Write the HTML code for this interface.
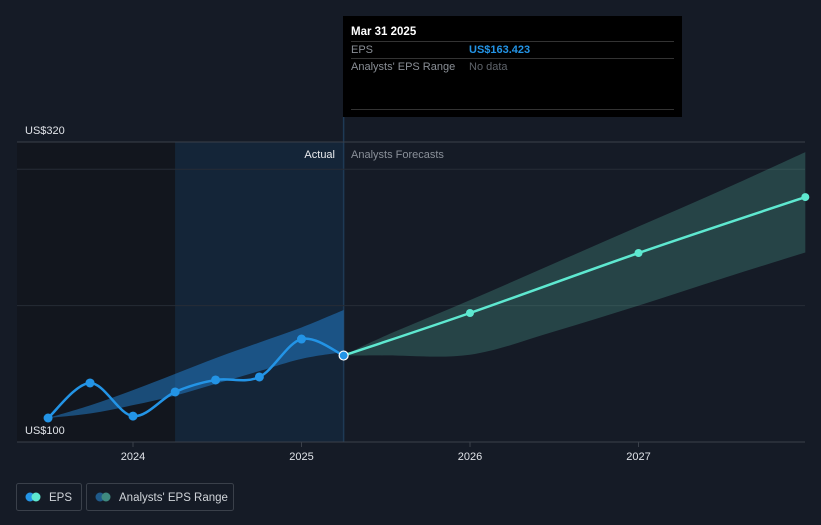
<!DOCTYPE html>
<html><head><meta charset="utf-8"><style>
body{margin:0;background:#151b26;font-family:"Liberation Sans",sans-serif;}
svg text{font-family:"Liberation Sans",sans-serif;}
</style></head><body>
<svg id="chart" width="821" height="520" xmlns="http://www.w3.org/2000/svg">
<rect width="821" height="520" fill="#151b26"/>
<g id="g"></g>
</svg>
<script>
const actualT=[2023.496,2023.745,2024,2024.25,2024.49,2024.75,2025,2025.25];
const actualV=[117.6,143.3,119,136.7,145.5,147.7,175.5,163.4];
const fcT=[2025.25,2026,2027,2027.99];
const fcV=[163.4,194.6,238.6,279.6];
const rangeT=[2023.496,2023.75,2024,2024.25,2024.5,2024.75,2025,2025.25];
const rangeHi=[117.6,127,138,150,162,173,184,196.8];
const rangeLo=[117.6,121,127,134,143,152,161,166];
const fcRangeT=[2025.25,2025.5,2026,2026.5,2027,2027.5,2027.99];
const fcRangeHi=[163.4,178,204,231,258,285,312.6];
const fcRangeLo=[163.4,163.5,164,181,200,220,239];
const yTicks=[100,200,300,320];
const yLabels=["US$100","US$320"];
const yLabelVals=[100,320];
const xTicks=[2024,2025,2026,2027];
const X=t=>133+(t-2024)*168.5;
const Y=v=>442-(v-100)*300/220;
const NS="http://www.w3.org/2000/svg";
const g=document.getElementById('g');
function mk(tag,attrs,name){const e=document.createElementNS(NS,tag);for(const k in attrs)e.setAttribute(k,attrs[k]);


g.appendChild(e);return e;}
function smooth(pts){let d=`M${pts[0][0]},${pts[0][1]}`;for(let i=0;i<pts.length-1;i++){const p0=pts[i-1]||pts[i],p1=pts[i],p2=pts[i+1],p3=pts[i+2]||p2;
d+=` C${p1[0]+(p2[0]-p0[0])/6},${p1[1]+(p2[1]-p0[1])/6} ${p2[0]-(p3[0]-p1[0])/6},${p2[1]-(p3[1]-p1[1])/6} ${p2[0]},${p2[1]}`;}return d;}
// regions
mk('rect',{x:17,y:142,width:X(2024.25)-17,height:300,fill:'#12161e'},'past-shade');
mk('rect',{x:X(2024.25),y:142,width:X(2025.25)-X(2024.25),height:300,fill:'#14283d',opacity:0.8},'actual-highlight');
mk('line',{x1:X(2025.25),x2:X(2025.25),y1:117,y2:442,stroke:'#1e3a55','stroke-width':1.5},'today-line');
// grid
yTicks.forEach(v=>{mk('line',{x1:17,x2:805,y1:Y(v),y2:Y(v),stroke:v==320||v==100?'#3a404a':'#262c36','stroke-width':1},'gridline-'+v);});
yLabels.forEach((l,i)=>{const t=mk('text',{x:25,y:Y(yLabelVals[i])-8,fill:'#e0e3e8','font-size':11},'y-label-'+yLabelVals[i]);t.textContent=l;});
xTicks.forEach(t=>{mk('line',{x1:X(t),x2:X(t),y1:442,y2:447,stroke:'#3a404a'},'x-tick-'+t);
const e=mk('text',{x:X(t),y:460,fill:'#e0e3e8','font-size':11,'text-anchor':'middle'},'x-label-'+t);e.textContent=t;});
// bands
function band(T,H,L,fill,name){const up=T.map((t,i)=>[X(t),Y(H[i])]);const lo=T.map((t,i)=>[X(t),Y(L[i])]).reverse();
let d=smooth(up)+' L'+smooth(lo).slice(1)+' Z';mk('path',{d,fill},name);}
band(rangeT,rangeHi,rangeLo,'rgba(33,130,210,0.5)','actual-eps-range');
band(fcRangeT,fcRangeHi,fcRangeLo,'rgba(90,190,170,0.25)','forecast-eps-range');
// lines
const ap=actualT.map((t,i)=>[X(t),Y(actualV[i])]);
mk('path',{d:smooth(ap),fill:'none',stroke:'#2394e6','stroke-width':2.5},'eps-actual-line');
const fp=fcT.map((t,i)=>[X(t),Y(fcV[i])]);
mk('path',{d:smooth(fp),fill:'none',stroke:'#5ee8d0','stroke-width':2.5},'eps-forecast-line');
ap.forEach((p,i)=>{if(i<ap.length-1)mk('circle',{cx:p[0],cy:p[1],r:4.5,fill:'#2394e6'},'eps-point');});
fp.forEach((p,i)=>{if(i>0)mk('circle',{cx:p[0],cy:p[1],r:4,fill:'#5ee8d0'},'forecast-point');});
const last=ap[ap.length-1];mk('circle',{cx:last[0],cy:last[1],r:4.5,fill:'#2394e6',stroke:'#fff','stroke-width':1.2},'eps-selected-point');
let t1=mk('text',{x:335,y:158,fill:'#e8eaed','font-size':11,'text-anchor':'end'},'actual-label');t1.textContent='Actual';
let t2=mk('text',{x:351,y:158,fill:'#8a9099','font-size':11},'forecast-label');t2.textContent='Analysts Forecasts';
// tooltip
mk('rect',{x:343,y:16,width:339,height:101,fill:'#000'},'tooltip');
let a=mk('text',{x:351,y:35,fill:'#fff','font-size':11.5,'font-weight':'bold'},'tooltip-date');a.textContent='Mar 31 2025';
mk('line',{x1:351,x2:674,y1:41.5,y2:41.5,stroke:'#333'},'tooltip-sep');
a=mk('text',{x:351,y:53,fill:'#8a8f96','font-size':11},'tooltip-eps-label');a.textContent='EPS';
a=mk('text',{x:469,y:53,fill:'#2394e6','font-size':11,'font-weight':'bold'},'tooltip-eps-value');a.textContent='US$163.423';
mk('line',{x1:351,x2:674,y1:58.5,y2:58.5,stroke:'#333'},'tooltip-sep');
a=mk('text',{x:351,y:70,fill:'#8a8f96','font-size':11},'tooltip-range-label');a.textContent="Analysts' EPS Range";
a=mk('text',{x:469,y:70,fill:'#5f646b','font-size':11},'tooltip-range-value');a.textContent='No data';
mk('line',{x1:351,x2:674,y1:109.5,y2:109.5,stroke:'#333'},'tooltip-sep');
// legend
function leg(x,w,c1,c2,label,name){const r=mk('rect',{x:x+0.5,y:483.5,width:w,height:27,rx:2,fill:'none',stroke:'#3a404a'},name);
mk('circle',{cx:x+14,cy:497,r:4.5,fill:c1},name+'-dot');mk('circle',{cx:x+20,cy:497,r:4.5,fill:c2},name+'-dot');
const t=mk('text',{x:x+33,y:501,fill:'#d0d4d9','font-size':11.5},name+'-label');t.textContent=label;}
leg(16,65,'#2394e6','#5ee8d0','EPS','legend-eps');
leg(86,147,'#1f5a8a','#3f8a80',"Analysts' EPS Range",'legend-eps-range');
</script>
</body></html>
